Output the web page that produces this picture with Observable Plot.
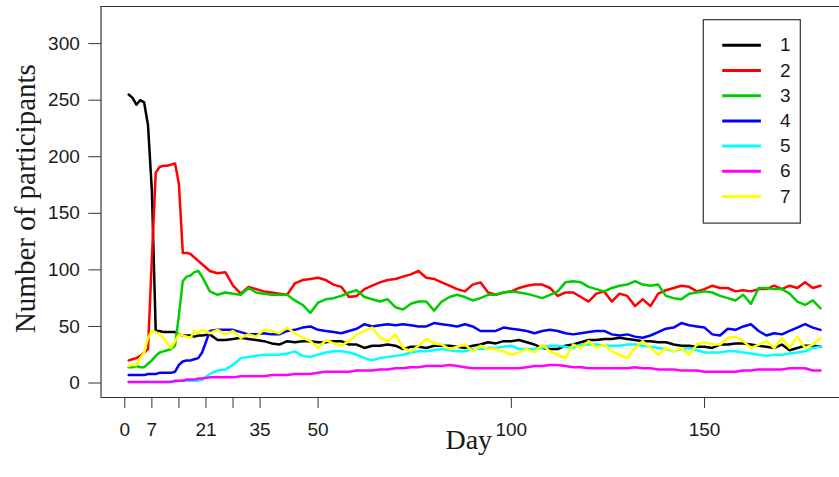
<!DOCTYPE html>
<html>
<head>
<meta charset="utf-8">
<script src="https://cdn.jsdelivr.net/npm/d3@7"></script>
<script src="https://cdn.jsdelivr.net/npm/@observablehq/plot@0.6"></script>
<style>
  html, body { margin: 0; padding: 0; background: white; overflow: hidden; }
  #chart svg { overflow: hidden; }
</style>
</head>
<body>
<div id="chart"></div>
<script>
// Day index: daily for days 1-20, then every second day to 180
const days = d3.range(1, 21).concat(d3.range(22, 181, 2));

const seriesNames = ["1", "2", "3", "4", "5", "6", "7"];
const seriesColors = ["#000000", "#FF0000", "#00CD00", "#0000FF", "#00FFFF", "#FF00FF", "#FFFF00"];

const series1 = [255,252,246,250,248,228,170,46,46,45,45,45,45,43,42,42,42,41,42,42,
  43,38,38,39,40,39,38,37,35,34,
  37,36,37,37,36,36,37,37,34,34,
  31,33,33,34,33,30,32,32,31,33,
  33,33,32,31,33,34,36,35,37,37,
  38,36,34,31,30,30,33,34,36,38,
  38,39,39,40,39,38,37,37,36,36,
  34,33,33,32,32,31,34,34,35,35,
  34,33,32,31,34,29,31,33,33,32];
const series2 = [20,21,22,24,27,30,110,186,191,192,192,193,194,176,115,115,114,111,108,105,
  99,97,98,86,79,85,83,81,80,79,
  78,88,91,92,93,91,87,85,76,77,
  83,86,89,91,92,94,96,99,93,92,
  89,86,83,81,87,89,80,78,80,81,
  84,86,87,87,84,77,80,80,76,72,
  79,81,72,79,77,68,74,68,79,82,
  84,86,85,81,83,86,84,84,81,82,
  81,83,83,86,83,86,84,89,84,86];
const series3 = [14,14,15,14,14,17,20,24,27,28,29,30,33,60,90,94,95,98,99,94,
  81,78,80,79,78,84,80,79,78,78,
  78,73,69,62,71,74,75,77,80,82,
  76,74,72,74,67,65,70,72,72,64,
  72,76,78,76,73,75,78,78,80,81,
  80,79,77,75,78,81,89,90,89,85,
  83,81,84,86,87,90,87,86,87,77,
  75,74,79,80,81,80,77,75,73,78,
  70,84,84,83,83,79,72,69,73,66];
const series4 = [7,7,7,7,7,8,8,8,9,9,9,9,10,16,19,20,20,21,22,27,
  46,47,47,47,45,43,43,44,43,43,
  46,47,49,50,47,46,45,44,46,48,
  52,50,51,52,51,52,51,50,50,53,
  52,51,50,52,50,46,46,46,49,48,
  47,46,44,46,47,46,44,43,44,45,
  46,46,43,42,43,41,40,42,45,48,
  49,53,51,50,49,43,42,48,47,50,
  52,46,42,44,43,46,49,52,49,47];
const series5 = [1,1,1,1,1,1,1,1,1,1,1,1,1,2,2,2,2,2,2,3,
  8,11,12,16,22,23,24,25,25,25,
  26,28,24,23,25,27,28,28,27,25,
  22,20,22,23,24,25,27,28,28,29,
  30,29,28,28,30,30,31,31,32,33,
  30,30,30,31,33,33,32,31,34,34,
  34,33,33,33,34,34,33,32,31,30,
  28,30,31,29,27,27,27,28,28,27,
  26,25,24,25,25,26,27,28,31,32];
const series6 = [1,1,1,1,1,1,1,1,1,1,1,1,2,2,2,3,3,3,4,4,
  5,5,5,5,6,6,6,6,7,7,
  7,8,8,8,9,10,10,10,10,11,
  11,11,12,12,13,13,14,14,15,15,
  15,16,15,14,13,13,13,13,13,13,
  13,14,15,15,16,16,15,14,14,13,
  13,13,13,13,13,14,13,13,12,12,
  12,11,11,11,10,10,10,10,10,11,
  11,12,12,12,12,13,13,13,11,11];
const series7 = [15,16,16,22,27,40,46,45,43,40,35,31,37,43,42,41,40,46,44,47,
  44,47,43,46,40,43,41,47,46,44,
  49,44,40,37,31,38,35,33,37,43,
  46,49,40,37,43,31,28,33,39,35,
  34,30,32,34,28,33,30,30,28,25,
  27,30,27,34,28,25,22,34,31,37,
  31,34,28,25,22,31,37,31,25,31,
  28,31,25,34,36,34,34,40,41,37,
  31,34,37,31,40,31,41,31,34,40];

const xTicks = [0, 7, 14, 21, 28, 35, 50, 100, 150];
const xTickLabels = ["0", "7", "", "21", "", "35", "50", "100", "150"];
const yTicks = [0, 50, 100, 150, 200, 250, 300];

const allSeries = [series1, series2, series3, series4, series5, series6, series7];
const table = allSeries.flatMap((s, i) => s.map((v, j) => ({day: days[j], value: v, group: seriesNames[i]})));

const xDom = [-6.16, 187.16];
const yDom = [-12.8, 332.8];
const sans = "'Liberation Sans', Arial, Helvetica, sans-serif";
const serif = "'Liberation Serif', 'Times New Roman', Times, serif";

const legendRows = seriesNames.map((n, i) => ({n, y: 298.6 - i * 22.3}));

const chart = Plot.plot({
  width: 839,
  height: 477,
  marginLeft: 101,
  marginRight: 0,
  marginTop: 6,
  marginBottom: 80,
  x: {domain: xDom, range: [100.5, 847.7]},
  y: {domain: yDom, range: [397, 6]},
  color: {domain: seriesNames, range: seriesColors},
  style: {fontFamily: sans, color: "#1a1a1a", background: "white", overflow: "hidden"},
  marks: [
    Plot.line(table, {x: "day", y: "value", z: "group", stroke: "group", strokeWidth: 2.5, strokeLinejoin: "round"}),
    // plot box
    Plot.ruleX([xDom[0]], {y1: yDom[0], y2: yDom[1], stroke: "#333", strokeWidth: 1.2}),
    Plot.ruleY([yDom[0], yDom[1]], {x1: xDom[0], x2: xDom[1], stroke: "#333", strokeWidth: 1.2}),
    // axes
    Plot.axisX(xTicks, {anchor: "bottom", tickSize: 11, tickPadding: 14, fontSize: 19,
      tickFormat: (d) => xTickLabels[xTicks.indexOf(d)], stroke: "#333", label: null}),
    Plot.axisY(yTicks, {anchor: "left", tickSize: 12.7, tickPadding: 9, fontSize: 19,
      stroke: "#333", label: null}),
    // axis titles
    Plot.text(["Day"], {x: 89, frameAnchor: "bottom", dy: 51, fontSize: 28, fontFamily: serif, fill: "#1a1a1a"}),
    Plot.text(["Number of participants"], {y: 163, frameAnchor: "left", dx: -76, rotate: -90, textAnchor: "middle", fontSize: 29, fontFamily: serif, fill: "#1a1a1a"}),
    // legend
    Plot.rect([0], {x1: 149.8, x2: 174.9, y1: 140.9, y2: 320.7, fill: "white", stroke: "#333", strokeWidth: 1.2}),
    Plot.ruleY(legendRows, {y: "y", x1: 154.7, x2: 164.7, stroke: "n", strokeWidth: 3}),
    Plot.text(legendRows, {x: 170.9, y: "y", text: "n", fontSize: 19, fill: "#1a1a1a"})
  ]
});
document.getElementById("chart").appendChild(chart);
</script>
</body>
</html>
